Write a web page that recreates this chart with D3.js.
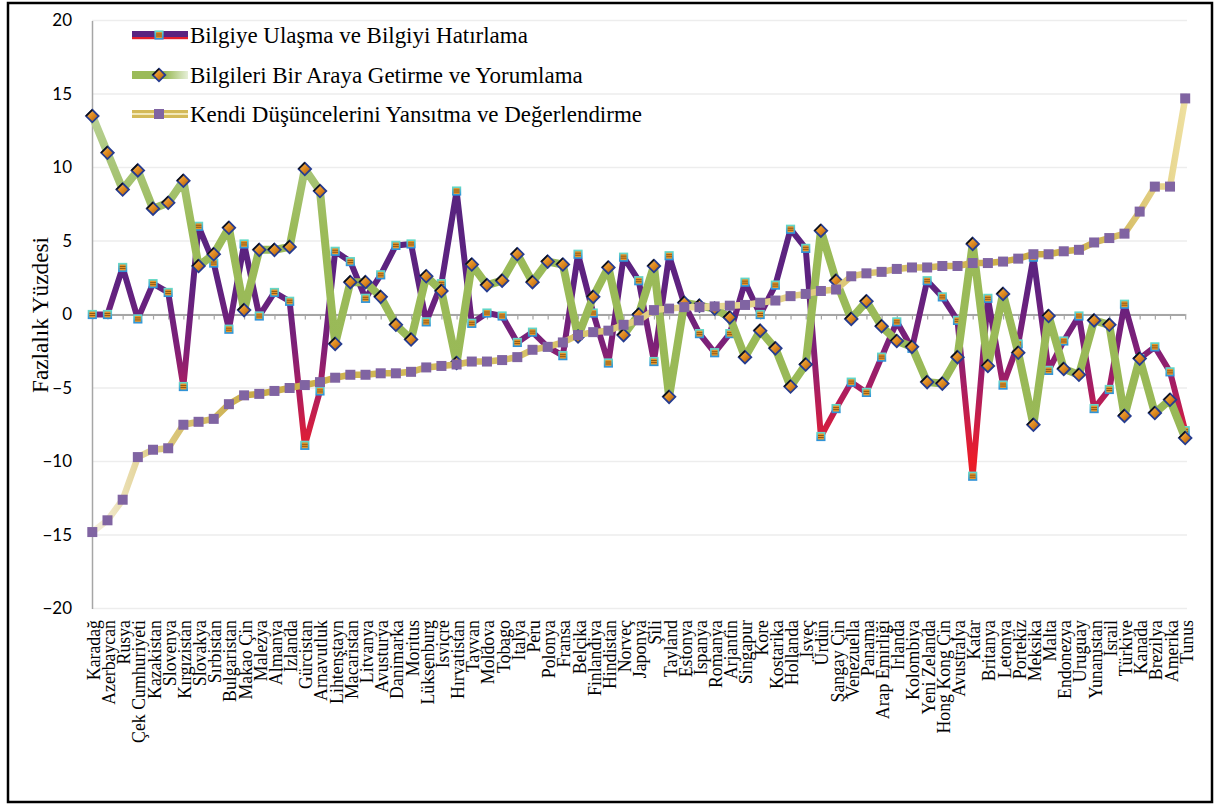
<!DOCTYPE html>
<html><head><meta charset="utf-8">
<script src="https://cdn.jsdelivr.net/npm/d3@7"></script>
<style>body{margin:0;background:#fff}svg{display:block}</style>
</head><body>
<svg id="chart" width="1215" height="805"></svg>
<script>
const categories = ["Karadağ","Azerbaycan","Rusya","Çek Cumhuriyeti","Kazakistan","Slovenya","Kırgızistan","Slovakya","Sırbistan","Bulgaristan","Makao Çin","Malezya","Almanya","İzlanda","Gürcistan","Arnavutluk","Lihtenştayn","Macaristan","Litvanya","Avusturya","Danimarka","Moritus","Lüksenburg","İsviçre","Hırvatistan","Tayvan","Moldova","Tobago","İtalya","Peru","Polonya","Fransa","Belçika","Finlandiya","Hindistan","Norveç","Japonya","Şili","Tayland","Estonya","İspanya","Romanya","Arjantin","Singapur","Kore","Kostarika","Hollanda","İsveç","Ürdün","Şangay Çin","Venezuella","Panama","Arap Emirliği","İrlanda","Kolombiya","Yeni Zelanda","Hong Kong Çin","Avustralya","Katar","Britanya","Letonya","Portekiz","Meksika","Malta","Endonezya","Uruguay","Yunanistan","İsrail","Türkiye","Kanada","Brezilya","Amerika","Tunus"];

const seriesNames = ["Bilgiye Ulaşma ve Bilgiyi Hatırlama","Bilgileri Bir Araya Getirme ve Yorumlama","Kendi Düşüncelerini Yansıtma ve Değerlendirme"];

const bilgiyeUlasma = [0.0,0.0,3.2,-0.3,2.1,1.5,-4.9,6.0,3.5,-1.0,4.8,-0.1,1.5,0.9,-8.9,-5.2,4.3,3.6,1.1,2.7,4.7,4.8,-0.5,2.1,8.4,-0.6,0.1,-0.1,-1.9,-1.2,-2.2,-2.8,4.1,0.1,-3.3,3.9,2.3,-3.2,4.0,0.7,-1.3,-2.6,-1.3,2.2,0.0,2.0,5.8,4.5,-8.3,-6.4,-4.6,-5.3,-2.9,-0.5,-2.3,2.3,1.2,-0.4,-11.0,1.1,-4.8,-2.0,3.9,-3.8,-1.8,-0.1,-6.4,-5.1,0.7,-3.0,-2.2,-3.9,-7.9];

const bilgileriBirAraya = [13.5,11.0,8.5,9.8,7.2,7.6,9.1,3.3,4.1,5.9,0.3,4.4,4.4,4.6,9.9,8.4,-2.0,2.2,2.2,1.2,-0.7,-1.7,2.6,1.6,-3.3,3.4,2.0,2.3,4.1,2.2,3.6,3.4,-1.5,1.2,3.2,-1.4,0.0,3.3,-5.6,0.8,0.6,0.4,-0.2,-2.9,-1.1,-2.3,-4.9,-3.4,5.7,2.3,-0.3,0.9,-0.8,-1.8,-2.2,-4.6,-4.7,-2.9,4.8,-3.5,1.4,-2.6,-7.5,-0.1,-3.7,-4.1,-0.4,-0.7,-6.9,-3.0,-6.7,-5.8,-8.4];

const kendiDusunce = [-14.8,-14.0,-12.6,-9.7,-9.2,-9.1,-7.5,-7.3,-7.1,-6.1,-5.5,-5.4,-5.2,-5.0,-4.8,-4.6,-4.3,-4.1,-4.1,-4.0,-4.0,-3.9,-3.6,-3.5,-3.4,-3.2,-3.2,-3.1,-2.9,-2.4,-2.2,-1.9,-1.4,-1.2,-1.1,-0.7,-0.4,0.3,0.4,0.5,0.5,0.55,0.6,0.65,0.8,0.95,1.25,1.4,1.6,1.7,2.6,2.8,2.9,3.1,3.2,3.2,3.3,3.3,3.5,3.5,3.6,3.8,4.1,4.1,4.3,4.4,4.9,5.2,5.5,7.0,8.7,8.7,14.7];

const yTicks = [-20,-15,-10,-5,0,5,10,15,20];

const svg = d3.select("#chart");
const defs = svg.append("defs");
const SERIF = "'Liberation Serif','DejaVu Serif',serif";
const SANS = "Lato,'Liberation Sans',sans-serif";

function measure(str, family, size) {
  const t = svg.append("text").attr("font-family", family).attr("font-size", size).text(str);
  const w = t.node().getComputedTextLength();
  t.remove();
  return w;
}
const legendFs = 20 * 338 / measure(seriesNames[0], SERIF, 20);
const catFs = 16 * 123 / measure("Çek Cumhuriyeti", SERIF, 16);
const titleFs = 20 * 156 / measure("Fazlalık Yüzdesi", SERIF, 20);

const x = d3.scalePoint().domain(categories).range([92.3, 1185.2]);
const y = d3.scaleLinear().domain([-20, 20]).range([608.5, 20.5]);

function grad(id, attrs, stops) {
  const g = defs.append("linearGradient").attr("id", id);
  Object.entries(attrs).forEach(([k, v]) => g.attr(k, v));
  stops.forEach(([o, c]) => g.append("stop").attr("offset", o).attr("stop-color", c));
}
grad("g1", {gradientUnits: "userSpaceOnUse", x1: 0, x2: 0, y1: y(8.5), y2: y(-11)},
  [[0, "#57247F"], [0.33, "#5E2280"], [0.54, "#7D2078"], [0.69, "#A81D62"], [0.85, "#D81E3C"], [0.95, "#EC1C27"], [1, "#E41E2A"]]);
grad("g2", {gradientUnits: "userSpaceOnUse", x1: 0, x2: 0, y1: y(14), y2: y(-9)},
  [[0, "#BAD297"], [0.2, "#A6C373"], [0.35, "#9BBB59"], [1, "#98B856"]]);
grad("g3", {gradientUnits: "userSpaceOnUse", x1: 92, x2: 1186, y1: 0, y2: 0},
  [[0, "#F6F1DE"], [0.06, "#DDCA82"], [0.15, "#C9AB45"], [0.25, "#CFB553"], [0.45, "#D9C56C"], [0.55, "#E8DA98"], [0.7, "#DCC775"], [0.85, "#C9AA42"], [0.93, "#D2B75A"], [1, "#EEE0A0"]]);
grad("cyan", {x1: 0, y1: 0, x2: 0, y2: 1}, [[0, "#6ADDC6"], [1, "#2C8ED8"]]);
grad("orange", {x1: 0, y1: 0, x2: 1, y2: 1}, [[0, "#F8B850"], [0.5, "#E08A20"], [1, "#9A5510"]]);
grad("legG2", {x1: 0, y1: 0, x2: 1, y2: 0}, [[0, "#9BBB59"], [0.6, "#9BBB59"], [1, "#E6EFD8"]]);

// outer border
svg.append("rect").attr("x", 8).attr("y", 3).attr("width", 1204).attr("height", 799)
  .attr("fill", "none").attr("stroke", "#000").attr("stroke-width", 2.5);

// gridlines
svg.append("g").selectAll("line").data(yTicks).join("line")
  .attr("x1", 92).attr("x2", 1187).attr("y1", d => y(d)).attr("y2", d => y(d))
  .attr("stroke", "#EDEDED").attr("stroke-width", 1.6);

// y axis
const yAxis = svg.append("g").attr("transform", "translate(92,0)")
  .call(d3.axisLeft(y).tickValues(yTicks).tickSize(0).tickSizeOuter(0).tickPadding(20));
yAxis.select(".domain").attr("stroke", "#A6A6A6").attr("stroke-width", 1.5);
yAxis.selectAll("text").attr("font-family", SANS).attr("font-size", 17).attr("fill", "#000");

// x axis at zero
const xAxis = svg.append("g").attr("transform", `translate(0,${y(0)})`)
  .call(d3.axisBottom(x).tickSize(5).tickSizeOuter(0).tickFormat(""));
xAxis.select(".domain").attr("stroke", "#A6A6A6").attr("stroke-width", 2);
xAxis.selectAll(".tick line").attr("stroke", "#A6A6A6").attr("stroke-width", 1.2);

// y title
svg.append("text").attr("transform", "translate(40,315) rotate(-90)")
  .attr("text-anchor", "middle").attr("dy", "0.35em")
  .attr("font-family", SERIF).attr("font-size", titleFs).text("Fazlalık Yüzdesi");

// category labels
svg.append("g").selectAll("text").data(categories).join("text")
  .attr("transform", d => `translate(${x(d)},620) rotate(-90)`)
  .attr("text-anchor", "end").attr("dy", "0.42em")
  .attr("font-family", SERIF).attr("font-size", catFs).attr("fill", "#000").text(d => d);

const line = d3.line().x((d, i) => x(categories[i])).y(d => y(d));

function marker1(g) {
  g.append("rect").attr("x", -4.6).attr("y", -4.6).attr("width", 9.2).attr("height", 9.2).attr("fill", "url(#cyan)");
  g.append("rect").attr("x", -2.9).attr("y", -2.9).attr("width", 5.8).attr("height", 5.8).attr("fill", "#E8962A");
  [-1, 1].forEach(o => g.append("line").attr("x1", -2.9).attr("x2", 2.9).attr("y1", o).attr("y2", o)
    .attr("stroke", "#7A4A10").attr("stroke-width", 0.8));
}
function marker2(g) {
  g.append("path").attr("d", "M0,-6.3L6.3,0L0,6.3L-6.3,0Z").attr("fill", "url(#orange)")
    .attr("stroke", "#263C90").attr("stroke-width", 1.8);
  g.append("path").attr("d", "M-6.3,0L0,-6.3").attr("stroke", "#111").attr("stroke-width", 1.6).attr("fill", "none");
}
function marker3(g) {
  g.append("rect").attr("x", -5).attr("y", -5).attr("width", 10).attr("height", 10).attr("fill", "#8064A2");
}

const series = [
  {vals: bilgiyeUlasma, stroke: "url(#g1)", width: 6, mk: marker1},
  {vals: bilgileriBirAraya, stroke: "url(#g2)", width: 8, mk: marker2},
  {vals: kendiDusunce, stroke: "url(#g3)", width: 6.5, mk: marker3}
];
series.forEach(s => {
  svg.append("path").datum(s.vals).attr("d", line).attr("fill", "none")
    .attr("stroke", s.stroke).attr("stroke-width", s.width)
    .attr("stroke-linejoin", "round").attr("stroke-linecap", "round");
  svg.append("g").selectAll("g").data(s.vals).join("g")
    .attr("transform", (d, i) => `translate(${x(categories[i])},${y(d)})`)
    .each(function () { s.mk(d3.select(this)); });
});

// legend
const legY = [35, 75, 114];
const leg = svg.append("g");
// entry 1
leg.append("rect").attr("x", 132).attr("y", legY[0] - 4).attr("width", 56).attr("height", 6).attr("fill", "#5A2380");
leg.append("rect").attr("x", 132).attr("y", legY[0] + 2).attr("width", 56).attr("height", 2.2).attr("fill", "#E3202E");
marker1(leg.append("g").attr("transform", `translate(159,${legY[0]})`));
// entry 2
leg.append("rect").attr("x", 132).attr("y", legY[1] - 4).attr("width", 56).attr("height", 8).attr("fill", "url(#legG2)");
marker2(leg.append("g").attr("transform", `translate(159,${legY[1]})`));
// entry 3
leg.append("rect").attr("x", 132).attr("y", legY[2] - 4).attr("width", 56).attr("height", 8).attr("fill", "#D4BA58");
leg.append("rect").attr("x", 132).attr("y", legY[2] - 1).attr("width", 56).attr("height", 2).attr("fill", "#F2E8B8");
marker3(leg.append("g").attr("transform", `translate(159,${legY[2]})`));
leg.selectAll("text.lt").data(seriesNames).join("text").attr("class", "lt")
  .attr("x", 190).attr("y", (d, i) => legY[i]).attr("dy", "0.35em")
  .attr("font-family", SERIF).attr("font-size", legendFs).attr("fill", "#000").text(d => d);
</script>
</body></html>
